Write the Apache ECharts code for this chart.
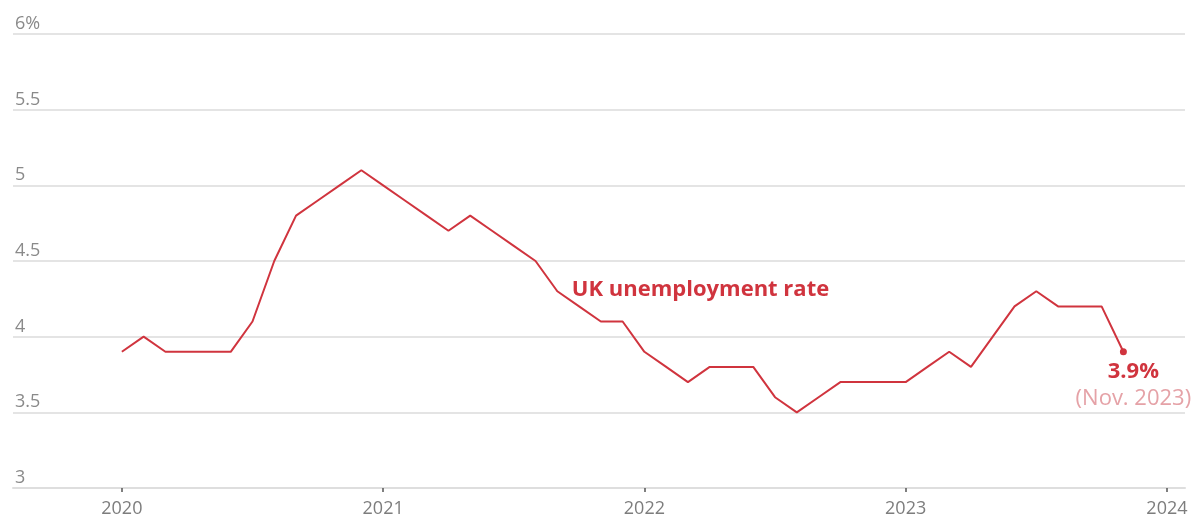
<!DOCTYPE html>
<html>
<head>
<meta charset="utf-8">
<script src="https://cdn.jsdelivr.net/npm/echarts@6/dist/echarts.min.js"></script>
<style>
  html, body { margin: 0; padding: 0; background: #fff; }
  #chart { width: 1200px; height: 520px; }
</style>
</head>
<body>
<div id="chart"></div>
<script>
// monthly UK unemployment rate, Jan 2020 .. Nov 2023
var months = ['Jan 2020','Feb 2020','Mar 2020','Apr 2020','May 2020','Jun 2020','Jul 2020','Aug 2020','Sep 2020','Oct 2020','Nov 2020','Dec 2020',
              'Jan 2021','Feb 2021','Mar 2021','Apr 2021','May 2021','Jun 2021','Jul 2021','Aug 2021','Sep 2021','Oct 2021','Nov 2021','Dec 2021',
              'Jan 2022','Feb 2022','Mar 2022','Apr 2022','May 2022','Jun 2022','Jul 2022','Aug 2022','Sep 2022','Oct 2022','Nov 2022','Dec 2022',
              'Jan 2023','Feb 2023','Mar 2023','Apr 2023','May 2023','Jun 2023','Jul 2023','Aug 2023','Sep 2023','Oct 2023','Nov 2023'];
var rate = [3.9, 4.0, 3.9, 3.9, 3.9, 3.9, 4.1, 4.5, 4.8, 4.9, 5.0, 5.1,
            5.0, 4.9, 4.8, 4.7, 4.8, 4.7, 4.6, 4.5, 4.3, 4.2, 4.1, 4.1,
            3.9, 3.8, 3.7, 3.8, 3.8, 3.8, 3.6, 3.5, 3.6, 3.7, 3.7, 3.7,
            3.7, 3.8, 3.9, 3.8, 4.0, 4.2, 4.3, 4.2, 4.2, 4.2, 3.9];
var yearTicks = [0, 12, 24, 36, 48];      // months since Jan 2020
var yearLabels = ['2020', '2021', '2022', '2023', '2024'];
var seriesName = 'UK unemployment rate';
var nameAt = 20;                           // Sep 2021, where the series name sits

var red = '#d0343e';

var seriesData = [];
for (var i = 0; i < rate.length; i++) {
    var item = { value: [i, rate[i]], name: months[i] };
    if (i === nameAt) {
        // tiny dot hidden under the line, just to carry the label
        item.symbol = 'circle';
        item.symbolSize = 1;
        item.label = {
            show: true,
            position: 'right',
            distance: 6,
            offset: [8, -2],
            formatter: seriesName,
            color: red,
            fontWeight: 'bold',
            fontSize: 22
        };
    }
    if (i === rate.length - 1) {
        item.symbol = 'circle';
        item.symbolSize = 7;
        item.label = {
            show: true,
            position: 'bottom',
            distance: 3,
            offset: [10, 0],
            align: 'center',
            formatter: '{a|' + rate[i] + '%}\n{b|(Nov. 2023)}',
            rich: {
                a: { color: red, fontWeight: 'bold', fontSize: 22, lineHeight: 27 },
                b: { color: '#e5a2a7', fontSize: 22, lineHeight: 27 }
            }
        };
    }
    seriesData.push(item);
}

var option = {
    animation: false,
    textStyle: { fontFamily: 'Open Sans' },
    grid: { left: 13, right: 15, top: 34, bottom: 32 },
    xAxis: {
        type: 'value',
        min: -5,
        max: 48.83,
        splitLine: { show: false },
        axisLine: { show: true, lineStyle: { color: '#dedede', width: 2 } },
        axisTick: {
            show: true,
            customValues: yearTicks,
            length: 4,
            lineStyle: { color: '#555', width: 1.5 }
        },
        axisLabel: {
            customValues: yearTicks,
            formatter: function (v) { return yearLabels[yearTicks.indexOf(v)]; },
            color: '#7d7d7d',
            fontSize: 18,
            margin: 12
        }
    },
    yAxis: {
        type: 'value',
        min: 3,
        max: 6,
        interval: 0.5,
        axisLine: { show: false },
        axisTick: { show: false },
        splitLine: { lineStyle: { color: '#e4e4e4', width: 2 } },
        axisLabel: {
            inside: true,
            verticalAlign: 'bottom',
            margin: 2,
            color: '#8a8a8a',
            fontSize: 18,
            padding: [0, 0, 1, 0],
            formatter: function (v) { return v === 6 ? '6%' : String(v); }
        }
    },
    series: [{
        name: seriesName,
        type: 'line',
        symbol: 'none',
        showSymbol: true,
        lineStyle: { color: red, width: 2 },
        itemStyle: { color: red },
        data: seriesData
    }]
};

var myChart = echarts.init(document.getElementById('chart'));
myChart.setOption(option);
</script>
</body>
</html>
